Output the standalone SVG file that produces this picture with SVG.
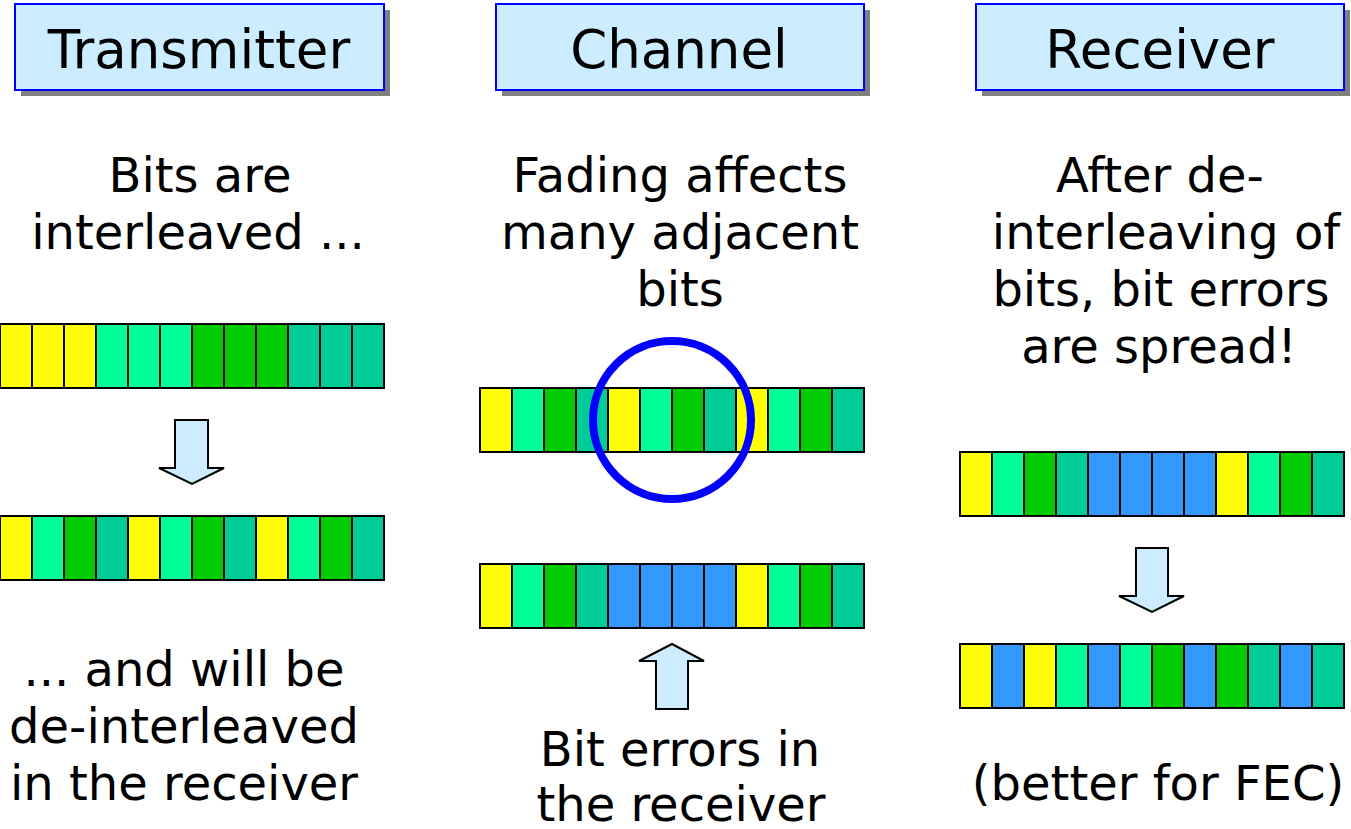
<svg xmlns="http://www.w3.org/2000/svg" width="1351" height="829" viewBox="0 0 1351 829">
<style>
.hdr{fill:#CCECFF;stroke:#0000FF;stroke-width:2}
.shd{fill:#808080}
.t{font-family:"DejaVu Sans",Verdana,sans-serif;fill:#000;text-anchor:middle}
.h{font-size:53px}
.b{font-size:48px}
.c rect{stroke:#000;stroke-width:2}
.y{fill:#FFFF00}.lg{fill:#00FF99}.g{fill:#00CC00}.tl{fill:#00CC99}.bl{fill:#3399FF}
.arr{fill:#CCECFF;stroke:#000;stroke-width:2;stroke-linejoin:miter}
</style>
<rect width="1351" height="829" fill="#fff"/>
<g id="hdr-transmitter">
<rect class="shd" x="21" y="10" width="369" height="86"/>
<rect class="hdr" x="15" y="4" width="369" height="86"/>
<text class="t h" x="199" y="68">Transmitter</text>
</g>
<g id="hdr-channel">
<rect class="shd" x="502" y="10" width="368" height="86"/>
<rect class="hdr" x="496" y="4" width="368" height="86"/>
<text class="t h" x="679" y="68">Channel</text>
</g>
<g id="hdr-receiver">
<rect class="shd" x="982" y="10" width="368" height="86"/>
<rect class="hdr" x="976" y="4" width="368" height="86"/>
<text class="t h" x="1160" y="68">Receiver</text>
</g>
<g id="txt-transmitter-top" class="t b">
<text x="200" y="192">Bits are</text>
<text x="198" y="249">interleaved ...</text>
</g>
<g id="txt-channel-top" class="t b">
<text x="680" y="192">Fading affects</text>
<text x="680" y="249">many adjacent</text>
<text x="680" y="306">bits</text>
</g>
<g id="txt-receiver-top" class="t b">
<text x="1160" y="192">After de-</text>
<text x="1166" y="249">interleaving of</text>
<text x="1161" y="306">bits, bit errors</text>
<text x="1159" y="363">are spread!</text>
</g>
<g id="bar-tx1" class="c">
<rect class="y" x="0" y="324" width="32" height="64"/><rect class="y" x="32" y="324" width="32" height="64"/><rect class="y" x="64" y="324" width="32" height="64"/>
<rect class="lg" x="96" y="324" width="32" height="64"/><rect class="lg" x="128" y="324" width="32" height="64"/><rect class="lg" x="160" y="324" width="32" height="64"/>
<rect class="g" x="192" y="324" width="32" height="64"/><rect class="g" x="224" y="324" width="32" height="64"/><rect class="g" x="256" y="324" width="32" height="64"/>
<rect class="tl" x="288" y="324" width="32" height="64"/><rect class="tl" x="320" y="324" width="32" height="64"/><rect class="tl" x="352" y="324" width="32" height="64"/>
</g>
<g id="bar-tx2" class="c">
<rect class="y" x="0" y="516" width="32" height="64"/><rect class="lg" x="32" y="516" width="32" height="64"/><rect class="g" x="64" y="516" width="32" height="64"/><rect class="tl" x="96" y="516" width="32" height="64"/>
<rect class="y" x="128" y="516" width="32" height="64"/><rect class="lg" x="160" y="516" width="32" height="64"/><rect class="g" x="192" y="516" width="32" height="64"/><rect class="tl" x="224" y="516" width="32" height="64"/>
<rect class="y" x="256" y="516" width="32" height="64"/><rect class="lg" x="288" y="516" width="32" height="64"/><rect class="g" x="320" y="516" width="32" height="64"/><rect class="tl" x="352" y="516" width="32" height="64"/>
</g>
<g id="bar-ch1" class="c">
<rect class="y" x="480" y="388" width="32" height="64"/><rect class="lg" x="512" y="388" width="32" height="64"/><rect class="g" x="544" y="388" width="32" height="64"/><rect class="tl" x="576" y="388" width="32" height="64"/>
<rect class="y" x="608" y="388" width="32" height="64"/><rect class="lg" x="640" y="388" width="32" height="64"/><rect class="g" x="672" y="388" width="32" height="64"/><rect class="tl" x="704" y="388" width="32" height="64"/>
<rect class="y" x="736" y="388" width="32" height="64"/><rect class="lg" x="768" y="388" width="32" height="64"/><rect class="g" x="800" y="388" width="32" height="64"/><rect class="tl" x="832" y="388" width="32" height="64"/>
</g>
<g id="fade-circle">
<circle cx="672" cy="420" r="79" fill="none" stroke="#0000FF" stroke-width="8"/>
</g>
<g id="bar-ch2" class="c">
<rect class="y" x="480" y="564" width="32" height="64"/><rect class="lg" x="512" y="564" width="32" height="64"/><rect class="g" x="544" y="564" width="32" height="64"/><rect class="tl" x="576" y="564" width="32" height="64"/>
<rect class="bl" x="608" y="564" width="32" height="64"/><rect class="bl" x="640" y="564" width="32" height="64"/><rect class="bl" x="672" y="564" width="32" height="64"/><rect class="bl" x="704" y="564" width="32" height="64"/>
<rect class="y" x="736" y="564" width="32" height="64"/><rect class="lg" x="768" y="564" width="32" height="64"/><rect class="g" x="800" y="564" width="32" height="64"/><rect class="tl" x="832" y="564" width="32" height="64"/>
</g>
<g id="bar-rx1" class="c">
<rect class="y" x="960" y="452" width="32" height="64"/><rect class="lg" x="992" y="452" width="32" height="64"/><rect class="g" x="1024" y="452" width="32" height="64"/><rect class="tl" x="1056" y="452" width="32" height="64"/>
<rect class="bl" x="1088" y="452" width="32" height="64"/><rect class="bl" x="1120" y="452" width="32" height="64"/><rect class="bl" x="1152" y="452" width="32" height="64"/><rect class="bl" x="1184" y="452" width="32" height="64"/>
<rect class="y" x="1216" y="452" width="32" height="64"/><rect class="lg" x="1248" y="452" width="32" height="64"/><rect class="g" x="1280" y="452" width="32" height="64"/><rect class="tl" x="1312" y="452" width="32" height="64"/>
</g>
<g id="bar-rx2" class="c">
<rect class="y" x="960" y="644" width="32" height="64"/><rect class="bl" x="992" y="644" width="32" height="64"/><rect class="y" x="1024" y="644" width="32" height="64"/><rect class="lg" x="1056" y="644" width="32" height="64"/>
<rect class="bl" x="1088" y="644" width="32" height="64"/><rect class="lg" x="1120" y="644" width="32" height="64"/><rect class="g" x="1152" y="644" width="32" height="64"/><rect class="bl" x="1184" y="644" width="32" height="64"/>
<rect class="g" x="1216" y="644" width="32" height="64"/><rect class="tl" x="1248" y="644" width="32" height="64"/><rect class="bl" x="1280" y="644" width="32" height="64"/><rect class="tl" x="1312" y="644" width="32" height="64"/>
</g>
<g id="connectors">
<path class="arr" d="M175,420 H208 V468 H224 L192,484 L159,468 H175 Z"/>
<path class="arr" d="M656,709 H688 V661 H704 L672,644 L639,661 H656 Z"/>
<path class="arr" d="M1136,548 H1168 V596 H1184 L1152,612 L1119,596 H1136 Z"/>
</g>
<g id="txt-transmitter-bottom" class="t b">
<text x="184" y="686">... and will be</text>
<text x="184" y="743">de-interleaved</text>
<text x="184" y="800">in the receiver</text>
</g>
<g id="txt-channel-bottom" class="t b">
<text x="680" y="766">Bit errors in</text>
<text x="681" y="821">the receiver</text>
</g>
<g id="txt-receiver-bottom" class="t b">
<text x="1158" y="800">(better for FEC)</text>
</g>
</svg>
